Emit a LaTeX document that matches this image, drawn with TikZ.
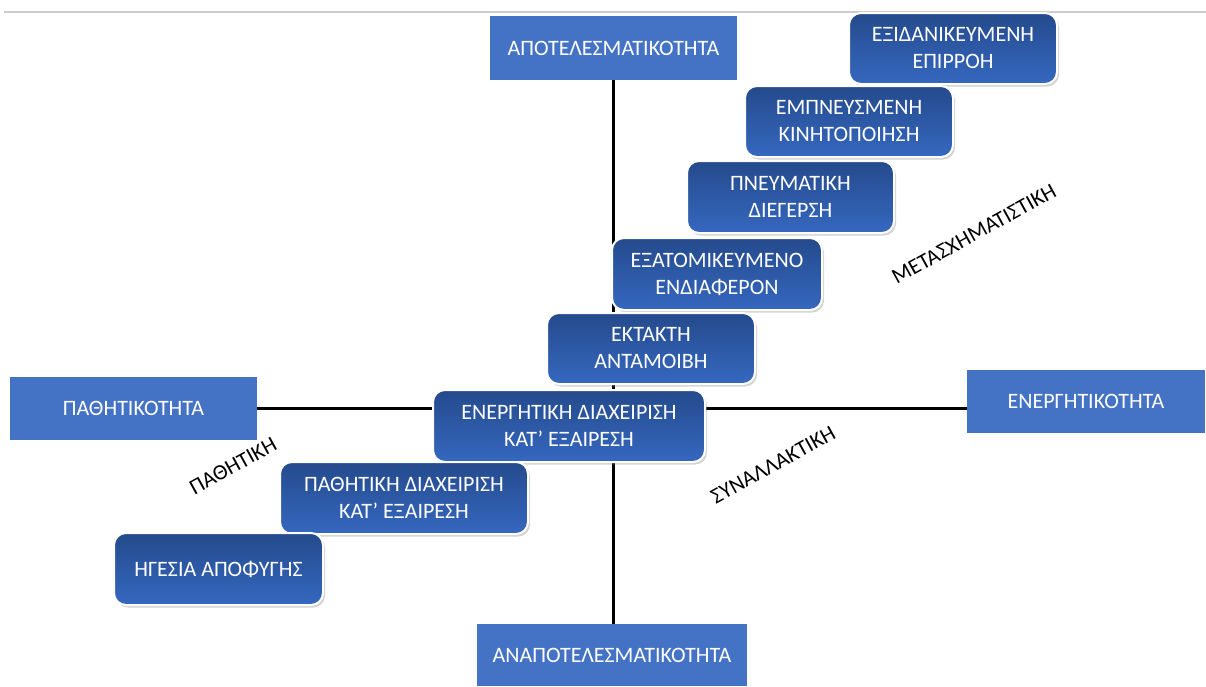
\documentclass[tikz,border=0pt]{standalone}
\usepackage{fontspec}
\setmainfont{Carlito}
\usetikzlibrary{shadows}
\definecolor{officeblue}{HTML}{4472C4}
\definecolor{boxtop}{HTML}{244A8C}
\definecolor{boxbot}{HTML}{3668C0}
\begin{document}
\begin{tikzpicture}[x=1pt,y=-1pt,
  axisbox/.style={fill=officeblue,text=white,inner sep=0pt,font=\fontsize{22}{27}\selectfont},
  stagebox/.style={rounded corners=12pt,draw=white,line width=2pt,top color=boxtop,bottom color=boxbot,
    text=white,inner sep=0pt,align=center,font=\fontsize{22}{27}\selectfont,
    drop shadow={opacity=0.35,shadow xshift=2pt,shadow yshift=-2.5pt}},
  axisline/.style={line width=3pt,black},
  diaglabel/.style={font=\fontsize{22}{26}\selectfont,rotate=29}]
\useasboundingbox (0,0) rectangle (1206,686);
\draw[gray!40,line width=1.2pt] (4,12) coordinate (tl) -- (1206,12) coordinate (tr);
% axis boxes
\node[axisbox,minimum width=247pt,minimum height=64pt] (top) at (613.5,48) {ΑΠΟΤΕΛΕΣΜΑΤΙΚΟΤΗΤΑ};
\node[axisbox,minimum width=270pt,minimum height=62pt] (bottom) at (612,655) {ΑΝΑΠΟΤΕΛΕΣΜΑΤΙΚΟΤΗΤΑ};
\node[axisbox,minimum width=247pt,minimum height=63pt] (left) at (133.5,408.5) {ΠΑΘΗΤΙΚΟΤΗΤΑ};
\node[axisbox,minimum width=238pt,minimum height=63pt] (right) at (1086,401.5) {ΕΝΕΡΓΗΤΙΚΟΤΗΤΑ};
% axes
\draw[axisline] (top.south) -- (top.south |- bottom.north);
\draw[axisline] (left.east) -- (left.east -| right.west);
% stages
\node[stagebox,minimum width=208pt,minimum height=71pt] (s1) at (953,48.5) {ΕΞΙΔΑΝΙΚΕΥΜΕΝΗ\\ΕΠΙΡΡΟΗ};
\node[stagebox,minimum width=208pt,minimum height=71pt] (s2) at (849,121.5) {ΕΜΠΝΕΥΣΜΕΝΗ\\ΚΙΝΗΤΟΠΟΙΗΣΗ};
\node[stagebox,minimum width=207pt,minimum height=72pt] (s3) at (790.5,197) {ΠΝΕΥΜΑΤΙΚΗ\\ΔΙΕΓΕΡΣΗ};
\node[stagebox,minimum width=210pt,minimum height=72pt] (s4) at (717,274) {ΕΞΑΤΟΜΙΚΕΥΜΕΝΟ\\ΕΝΔΙΑΦΕΡΟΝ};
\node[stagebox,minimum width=208pt,minimum height=71pt] (s5) at (651,348.5) {ΕΚΤΑΚΤΗ\\ΑΝΤΑΜΟΙΒΗ};
\node[stagebox,minimum width=272pt,minimum height=72pt] (s6) at (569,426) {ΕΝΕΡΓΗΤΙΚΗ ΔΙΑΧΕΙΡΙΣΗ\\ΚΑΤ’ ΕΞΑΙΡΕΣΗ};
\node[stagebox,minimum width=248pt,minimum height=72pt] (s7) at (404,498) {ΠΑΘΗΤΙΚΗ ΔΙΑΧΕΙΡΙΣΗ\\ΚΑΤ’ ΕΞΑΙΡΕΣΗ};
\node[stagebox,minimum width=209pt,minimum height=72pt] (s8) at (218.5,569) {ΗΓΕΣΙΑ ΑΠΟΦΥΓΗΣ};
% diagonal labels
\node[diaglabel] (lt) at (974,234) {ΜΕΤΑΣΧΗΜΑΤΙΣΤΙΚΗ};
\node[diaglabel] (lsyn) at (773,465) {ΣΥΝΑΛΛΑΚΤΙΚΗ};
\node[diaglabel] (lpas) at (233,466) {ΠΑΘΗΤΙΚΗ};
\end{tikzpicture}
\end{document}
